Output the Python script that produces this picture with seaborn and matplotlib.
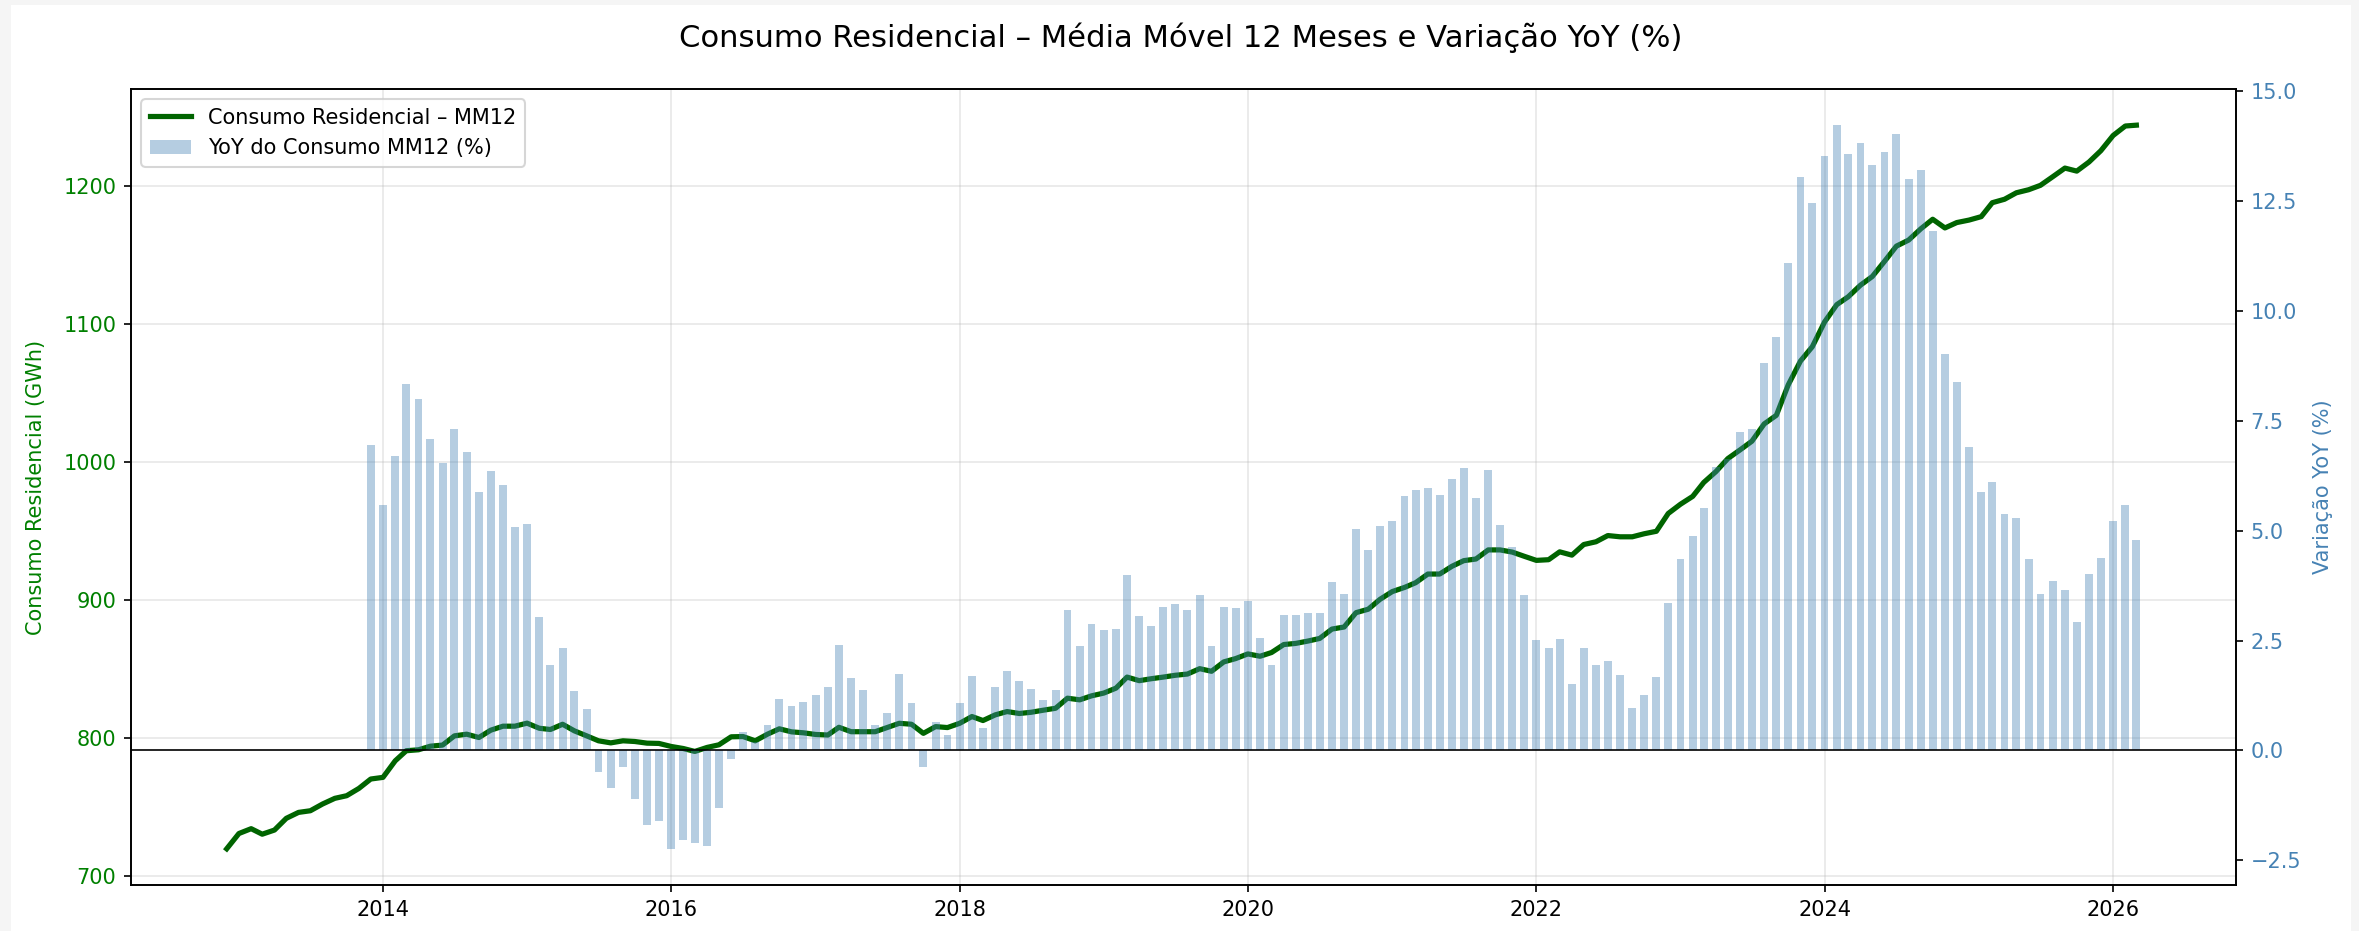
import pandas as pd
import numpy as np
import seaborn as sns
import matplotlib.pyplot as plt
from matplotlib.patches import Rectangle

# --- data ---
# 12-month moving average of residential consumption (GWh), Dec/2012 .. Mar/2026
mm12_start = '2012-12-01'
mm12_gwh = [
    719.4, 730.5, 734.0, 730.0, 733.0, 741.5, 745.8, 747.0, 751.9, 756.0, 757.9, 763.2,
    770.0, 771.2, 783.2, 790.5, 791.2, 793.8, 794.6, 801.3, 802.5, 800.1, 805.4, 808.3,
    808.3, 810.5, 806.8, 805.9, 809.7, 804.9, 801.3, 797.7, 796.2, 797.7, 797.2, 796.0,
    795.8, 793.6, 792.1, 790.0, 792.9, 794.8, 800.6, 800.8, 797.7, 802.5, 806.4, 804.2,
    803.5, 802.3, 801.9, 807.5, 804.3, 804.3, 804.3, 807.3, 810.4, 809.7, 803.1, 808.0,
    807.3, 810.4, 815.3, 812.4, 816.5, 818.9, 817.5, 818.4, 819.9, 821.3, 828.6, 827.4,
    830.3, 832.3, 835.9, 843.9, 841.3, 842.7, 843.9, 845.2, 846.1, 850.0, 848.1, 854.9,
    857.3, 860.7, 859.0, 861.7, 867.5, 868.3, 870.0, 871.9, 878.7, 880.2, 890.6, 893.1,
    900.3, 905.9, 908.9, 912.3, 918.6, 918.6, 924.2, 928.3, 929.5, 936.1, 936.1, 934.5,
    931.5, 928.5, 929.0, 934.7, 932.3, 940.0, 942.0, 946.5, 945.6, 945.6, 947.8, 949.6,
    962.5, 969.2, 974.9, 985.0, 992.9, 1002.3, 1008.6, 1014.9, 1027.4, 1033.7, 1055.7, 1073.0,
    1083.4, 1101.3, 1113.9, 1119.6, 1128.0, 1134.3, 1145.3, 1156.3, 1160.7, 1168.9, 1175.8, 1169.5,
    1173.4, 1175.2, 1177.7, 1187.8, 1190.3, 1195.0, 1197.2, 1200.4, 1206.6, 1212.9, 1210.7, 1217.3,
    1225.5, 1236.5, 1243.4, 1244.0,
]

# YoY change of the MM12 (%), Dec/2013 .. Mar/2026
yoy_start = '2013-12-01'
yoy_pct = [
    6.95, 5.58, 6.70, 8.35, 7.99, 7.08, 6.55, 7.31, 6.80, 5.87, 6.37, 6.04,
    5.08, 5.15, 3.04, 1.94, 2.33, 1.36, 0.94, -0.49, -0.85, -0.37, -1.10, -1.70,
    -1.60, -2.24, -2.03, -2.10, -2.18, -1.30, -0.20, 0.43, 0.18, 0.58, 1.18, 1.01,
    1.11, 1.27, 1.44, 2.41, 1.65, 1.37, 0.57, 0.86, 1.73, 1.08, -0.38, 0.64,
    0.36, 1.08, 1.69, 0.51, 1.44, 1.80, 1.58, 1.40, 1.15, 1.37, 3.20, 2.37,
    2.88, 2.73, 2.76, 3.99, 3.05, 2.84, 3.27, 3.34, 3.20, 3.53, 2.37, 3.27,
    3.23, 3.41, 2.55, 1.94, 3.09, 3.09, 3.12, 3.12, 3.84, 3.56, 5.03, 4.56,
    5.10, 5.21, 5.78, 5.92, 5.97, 5.82, 6.18, 6.43, 5.75, 6.39, 5.12, 4.62,
    3.54, 2.51, 2.33, 2.54, 1.50, 2.32, 1.94, 2.03, 1.72, 0.96, 1.25, 1.68,
    3.36, 4.36, 4.87, 5.52, 6.46, 6.63, 7.25, 7.31, 8.81, 9.42, 11.10, 13.04,
    12.47, 13.53, 14.23, 13.58, 13.82, 13.33, 13.61, 14.04, 13.00, 13.22, 11.82, 9.03,
    8.38, 6.90, 5.87, 6.12, 5.37, 5.30, 4.36, 3.57, 3.86, 3.65, 2.93, 4.01,
    4.39, 5.22, 5.58, 4.80,
]

df_mm = pd.DataFrame({
    'data': pd.date_range(mm12_start, periods=len(mm12_gwh), freq='MS'),
    'consumo_mm12': mm12_gwh,
})
df_yoy = pd.DataFrame({
    'data': pd.date_range(yoy_start, periods=len(yoy_pct), freq='MS'),
    'yoy': yoy_pct,
})

# --- figure ---
W, H, DPI = 2359, 931, 150
fig = plt.figure(figsize=(W / DPI, H / DPI), dpi=DPI, facecolor='#f5f5f5')
# white canvas inside the light grey screenshot frame
fig.patches.append(Rectangle((11 / W, 0), (2351 - 11) / W, (931 - 5) / H,
                             transform=fig.transFigure, facecolor='white',
                             edgecolor='none', zorder=-10))

ax1 = fig.add_axes([131 / W, 1 - 885 / H, (2236 - 131) / W, (885 - 89) / H])
ax1.set_facecolor('white')

sns.lineplot(data=df_mm, x='data', y='consumo_mm12', ax=ax1, color='darkgreen',
             linewidth=2.5, label='Consumo Residencial – MM12')
ax1.set_xlabel('')
ax1.set_ylabel('Consumo Residencial (GWh)', color='green')
ax1.tick_params(axis='y', labelcolor='green')
ax1.yaxis.set_label_coords(-0.0406, 0.5)
ax1.grid(True, alpha=0.3)

ax2 = ax1.twinx()
ax2.bar(df_yoy['data'], df_yoy['yoy'], width=20, color='steelblue', alpha=0.4,
        label='YoY do Consumo MM12 (%)')
ax2.axhline(0, color='black', linewidth=0.8)
ax2.set_ylabel('Variação YoY (%)', color='steelblue')
ax2.tick_params(axis='y', labelcolor='steelblue')
ax2.yaxis.set_label_coords(1.0368, 0.5)

# combined legend
h1, l1 = ax1.get_legend_handles_labels()
h2, l2 = ax2.get_legend_handles_labels()
if ax1.get_legend() is not None:
    ax1.get_legend().remove()
ax1.legend(h1 + h2, l1 + l2, loc='upper left')

fig.text(1181 / W, 1 - 38 / H, 'Consumo Residencial – Média Móvel 12 Meses e Variação YoY (%)',
         ha='center', va='center', fontsize=14.7)

fig.savefig('out.png', dpi=DPI, facecolor=fig.get_facecolor())
